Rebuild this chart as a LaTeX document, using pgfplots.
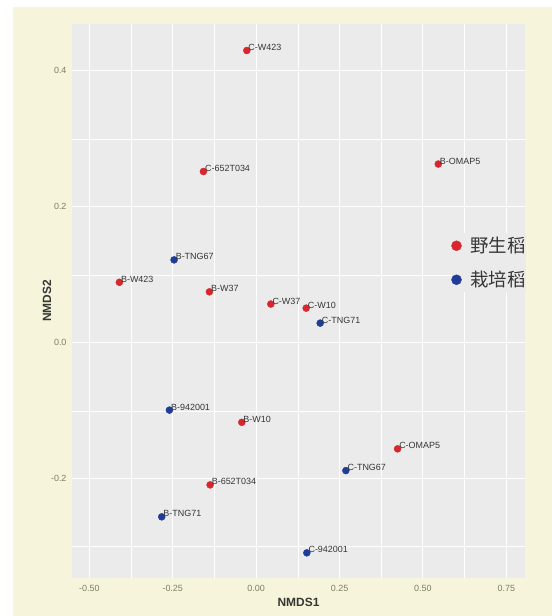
\documentclass[border=0pt]{standalone}
\usepackage{pgfplots}
\usepackage{pgfplotstable}
\pgfplotsset{compat=1.18}
\usepackage{fontspec}
\setmainfont{Liberation Sans}
\newfontfamily\cjk{Noto Sans CJK SC}

\definecolor{pagecream}{HTML}{F6F4DA}
\definecolor{panelgray}{HTML}{EBEBEB}
\definecolor{wildred}{HTML}{D8262E}
\definecolor{cultblue}{HTML}{1F3C98}
\definecolor{ticktext}{HTML}{7E7E68}
\definecolor{labeltext}{HTML}{363636}

% NMDS scores, wild rice samples
\pgfplotstableread{
x      y      label
-0.028  0.430 C-W423
-0.158  0.252 C-652T034
 0.546  0.263 B-OMAP5
-0.410  0.089 B-W423
-0.140  0.075 B-W37
 0.044  0.057 C-W37
 0.150  0.051 C-W10
-0.043 -0.117 B-W10
 0.424 -0.156 C-OMAP5
-0.138 -0.209 B-652T034
}\wildtab

% NMDS scores, cultivated rice samples
\pgfplotstableread{
x      y      label
-0.246  0.122 B-TNG67
 0.192  0.029 C-TNG71
-0.260 -0.099 B-942001
 0.269 -0.188 C-TNG67
-0.283 -0.256 B-TNG71
 0.152 -0.309 C-942001
}\culttab

\begin{document}
\begin{tikzpicture}
\fill[white] (0,0) rectangle (552bp,616bp);
\fill[pagecream] (13bp,0) rectangle (552bp,609bp);
\begin{axis}[
  at={(72bp,38bp)}, anchor=south west,
  scale only axis, width=453bp, height=554bp,
  xmin=-0.552, xmax=0.806, ymin=-0.346, ymax=0.469,
  axis background/.style={fill=panelgray},
  axis line style={draw=none},
  xtick={-0.5,-0.25,0,0.25,0.5,0.75},
  xticklabels={-0.50,-0.25,0.00,0.25,0.50,0.75},
  ytick={-0.2,0,0.2,0.4},
  yticklabels={-0.2,0.0,0.2,0.4},
  minor xtick={-0.375,-0.125,0.125,0.375,0.625},
  minor ytick={-0.3,-0.1,0.1,0.3},
  grid=both,
  major grid style={white, line width=1.1bp},
  minor grid style={white, line width=0.55bp},
  major tick length=0pt, minor tick length=0pt,
  tick label style={font=\fontsize{9}{10}\selectfont, text=ticktext},
  xticklabel style={yshift=-4bp},
  yticklabel style={xshift=-2bp},
  xlabel={NMDS1}, ylabel={NMDS2},
  label style={font=\fontsize{12}{14}\selectfont\bfseries, text=labeltext},
  xlabel style={at={(axis description cs:0.5,0)}, anchor=center, yshift=-24bp},
  ylabel style={at={(axis description cs:0,0.5)}, anchor=center, yshift=25bp},
  legend style={at={(rel axis cs:1,0.569)}, anchor=east, xshift=1bp,
    fill=panelgray, draw=none, inner xsep=0bp,
    nodes={inner xsep=0bp},
    font=\cjk\fontsize{18.5}{21}\selectfont, text=labeltext, row sep=13bp,
    /tikz/every odd column/.append style={column sep=9bp}},
  legend cell align=left,
  legend image post style={mark size=5bp},
  every node near coord/.append style={anchor=west, inner sep=0pt, xshift=1.5bp, yshift=3bp,
    font=\fontsize{9}{10}\selectfont, text=labeltext},
]
\addplot[only marks, mark=*, mark size=3.5bp, color=wildred,
  nodes near coords, point meta=explicit symbolic]
  table[x=x, y=y, meta=label] {\wildtab};
\addplot[only marks, mark=*, mark size=3.5bp, color=cultblue,
  nodes near coords, point meta=explicit symbolic]
  table[x=x, y=y, meta=label] {\culttab};
\legend{野生稻, 栽培稻}
\end{axis}
\pgfresetboundingbox
\path[use as bounding box] (0,0) rectangle (552bp,616bp);
\end{tikzpicture}
\end{document}
